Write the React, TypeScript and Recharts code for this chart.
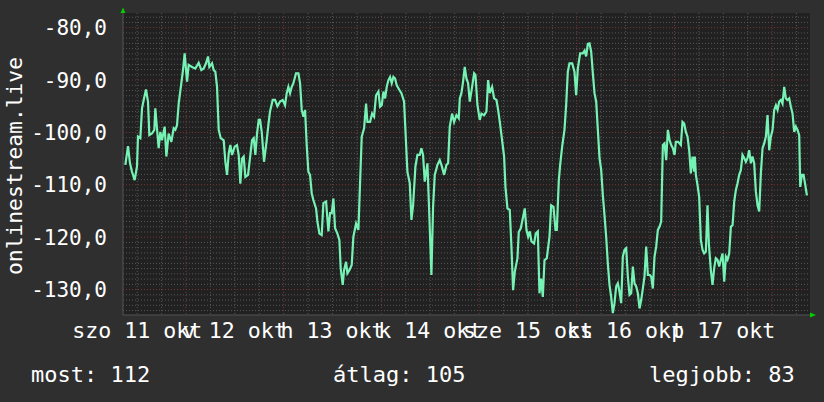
import { LineChart, Line, XAxis, YAxis, CartesianGrid } from "recharts";

// hours since Sat 11 Oct 00:00
const hours = [
  9.1, 9.75, 10.24, 10.73, 11.38, 11.96, 12.2, 12.78, 13.19, 13.6, 14.17, 14.66, 14.99, 15.64, 16.22, 16.46,
  16.87, 17.28, 17.69, 18.1, 18.76, 19.17, 19.74, 20.4, 20.97, 21.38, 21.79, 22.2, 22.85, 23.26, 23.67,
  24.25, 24.65, 25.47, 26.29, 27.11, 27.77, 28.34, 28.91, 29.41, 29.73, 30.39, 30.8, 31.21, 31.62, 32.03,
  32.52, 33.26, 33.67, 34.08, 34.49, 34.9, 35.3, 35.96, 36.53, 36.94, 37.35, 37.76, 38.17, 38.58, 39.24,
  39.81, 40.22, 40.63, 41.04, 41.45, 41.86,
  42.19, 42.6, 43.17, 43.82, 44.23, 44.64, 45.3, 45.87, 46.45, 47.1, 47.76, 48.33, 48.74, 49.15, 49.56,
  49.97, 50.38, 51.03, 51.61, 52.02, 52.43, 52.84, 53.25, 53.65, 54.06, 54.47, 54.88, 55.29, 55.95, 56.28,
  56.77, 57.34, 57.75, 58.41, 58.98, 59.39, 59.8, 60.21, 60.62, 61.19, 61.68, 62.01, 62.5, 62.83, 63.32,
  63.65, 64.14, 64.71, 65.12, 65.78, 66.35, 66.76, 67.17, 67.75, 68.24, 68.56, 69.22, 69.71, 70.2, 70.69,
  71.27, 71.68, 72.09, 72.5, 72.91, 73.32, 73.73, 74.13, 74.54, 74.95, 75.36, 75.77, 76.43,
  76.92, 77.57, 77.9, 78.39, 78.97, 79.38, 79.79, 80.36, 80.85, 81.42, 81.83, 82.24, 82.65, 83.31, 83.64,
  84.29, 84.7, 85.11, 85.77, 86.34, 86.75, 87.41, 87.98, 88.39, 88.8, 89.37, 89.86, 90.44, 91.01, 91.26,
  91.66, 92.07, 92.48, 92.89, 93.3, 93.71, 94.29, 94.78, 95.11, 95.6, 96.17, 96.58, 97.24, 97.81, 98.22,
  98.63, 99.2, 99.69, 100.27, 100.68, 101.09, 101.5, 102.15, 102.48, 102.97, 103.54, 103.95, 104.36,
  104.77, 105.43, 105.75, 106.25, 106.82, 107.23, 107.64, 108.05, 108.46, 108.87, 109.52, 109.93,
  110.43, 110.84, 111.25, 111.66, 112.07, 112.64, 113.3, 113.71, 114.28, 114.77, 115.1, 115.59, 115.92,
  116.41, 116.98, 117.39, 117.8, 118.21, 118.87, 119.44, 119.85, 120.26, 120.83, 121.49, 121.9, 122.31,
  122.72, 123.13, 123.54, 123.95, 124.36, 124.77, 125.18, 125.59, 126.0, 126.4, 126.81, 127.22, 127.63,
  128.04, 128.45, 128.86, 129.27, 129.68, 130.09, 130.5, 130.91, 131.32, 131.73, 132.14, 132.55, 132.96,
  133.37, 133.78, 134.19, 134.6, 135.01, 135.42, 135.83, 136.23, 136.64, 137.05, 137.46, 137.87, 138.28,
  138.69, 139.1, 139.51, 139.92, 140.33, 140.74, 141.15, 141.56, 141.97, 142.38, 142.79, 143.2, 143.61, 144.02,
  144.34, 144.91, 145.57, 145.98, 146.39, 146.8, 147.21, 147.62, 148.03, 148.44, 148.85, 149.01, 149.26,
  149.66, 150.07, 150.48, 150.89, 151.3, 151.71, 152.12, 152.45, 152.94, 153.35, 153.76, 154.17, 154.58,
  154.99, 155.4, 155.81, 156.22, 156.63, 157.04, 157.45, 157.86, 158.27, 158.68, 159.09, 159.5, 159.9,
  160.31, 160.72, 161.13, 161.54, 161.95, 162.36, 162.77, 163.18, 163.59, 164.0, 164.41, 164.82, 165.23,
  165.64, 166.05, 166.46, 166.87, 167.28, 167.69, 168.1, 168.51, 168.92, 169.33, 169.74, 170.15, 170.55,
  170.96, 171.37, 171.78, 172.19, 172.6, 173.01, 173.42, 173.83, 174.24, 174.65, 174.9, 175.31, 175.72,
  176.13, 176.54,
];

const signal = [
  -106.2, -102.6, -105.9, -107.5, -109.1, -106.5, -100.8, -101.1, -95.4, -93.8, -91.8, -94.1, -100.5, -100.2, -99.5, -95.4,
  -99.2, -103.0, -99.9, -101.5, -98.9, -104.6, -100.2, -101.8, -99.2, -99.5, -98.6, -94.5, -90.6, -88.1, -84.9,
  -90.3, -87.1, -87.5, -87.8, -86.7, -88.1, -87.8, -86.8, -85.5, -87.5, -86.8, -88.1, -88.4, -91.3, -99.5,
  -101.1, -101.5, -105.6, -108.1, -104.0, -102.4, -104.3, -102.7, -102.4, -104.3, -109.8, -105.0, -104.6, -108.5, -108.1,
  -104.3, -101.5, -101.1, -104.3, -100.2, -97.6,
  -97.6, -99.9, -105.6, -101.5, -98.6, -96.0, -93.8, -93.8, -95.0, -94.1, -93.8, -94.8, -92.5, -91.3, -92.5,
  -91.3, -90.6, -88.7, -88.7, -90.6, -95.7, -97.0, -95.7, -102.4, -107.5, -108.1, -111.6, -112.9, -114.5, -117.0,
  -119.3, -119.6, -113.5, -113.2, -118.9, -115.4, -115.4, -112.6, -118.3, -119.3, -120.5, -126.0, -129.1, -126.3, -124.7,
  -126.9, -126.3, -125.3, -119.9, -117.4, -118.6, -109.7, -100.8, -99.2, -94.5, -98.0, -98.0, -96.4, -97.0, -92.9,
  -92.2, -95.1, -94.8, -92.2, -93.5, -91.3, -90.0, -89.4, -90.6, -89.4, -89.7, -91.0, -91.9,
  -92.5, -94.1, -99.5, -107.5, -109.7, -116.7, -113.9, -106.5, -104.3, -104.3, -103.0, -104.3, -109.4, -105.9, -112.9,
  -127.2, -114.2, -108.1, -106.2, -105.3, -106.2, -108.1, -106.2, -105.9, -98.9, -96.4, -98.0, -96.7, -97.3, -93.5,
  -92.5, -90.3, -87.5, -89.7, -90.6, -94.1, -91.3, -88.7, -89.0, -94.8, -97.6, -96.4, -96.7, -96.0, -90.0,
  -92.5, -91.3, -93.5, -93.8, -95.7, -98.0, -100.5, -104.6, -110.4, -114.5, -114.8, -121.8, -130.1,
  -126.6, -124.0, -119.0, -118.3, -116.1, -114.5, -118.6, -119.9, -118.9, -120.8, -121.2, -119.3,
  -118.9, -130.7, -127.9, -131.4, -124.4, -124.0, -119.9, -113.9, -114.2, -118.6, -118.6, -109.1, -106.2,
  -102.7, -99.5, -94.8, -88.4, -86.8, -86.8, -88.4, -92.9, -87.8, -84.9, -84.9, -84.4, -85.5,
  -83.1, -83.0, -84.6, -88.7, -92.5, -94.1, -99.5, -104.9, -107.2, -111.9, -115.8, -119.9, -125.0,
  -129.1, -131.4, -134.5, -132.6, -129.4, -128.8, -130.4, -132.6, -123.7, -122.4, -122.1, -127.5, -131.0,
  -130.7, -125.6, -128.8, -129.4, -130.7, -133.6, -132.0, -129.8, -127.5, -121.8, -127.2, -127.2, -127.5,
  -129.8, -123.7, -121.8, -118.6, -118.0, -117.0, -102.4, -102.1, -105.3, -99.5, -101.4, -102.4, -103.0, -104.3,
  -101.8, -101.8, -102.4, -98.0, -98.3, -99.9, -100.8, -103.4, -107.8, -104.6, -107.5, -104.6, -108.1,
  -110.0, -112.3, -120.5, -122.4, -123.1, -122.8, -113.9, -121.2, -126.3, -129.1, -125.9, -124.0, -124.3,
  -125.6, -124.3, -123.1, -128.5, -123.7, -124.3, -123.1, -118.0, -117.7, -113.2, -111.0, -109.7, -108.1,
  -107.2, -104.3, -104.9, -105.6, -104.9, -103.4, -105.9, -104.6, -105.9, -111.3, -113.9, -115.1, -107.8,
  -103.0, -102.1, -100.8, -96.7, -103.4, -100.8, -99.5, -95.7, -94.8, -95.7, -94.1, -93.8, -94.5,
  -91.3, -93.5, -93.8, -93.5, -95.1, -96.4, -99.9, -98.9, -99.5, -100.5, -110.4, -108.1, -108.1,
  -110.0, -112.0,
];

const data = hours.map((t, i) => ({ t, v: signal[i] }));

const noonTicks = [12, 36, 60, 84, 108, 132, 156];
const dayLabels = ["szo 11 okt", "v 12 okt", "h 13 okt", "k 14 okt", "sze 15 okt", "cs 16 okt", "p 17 okt"];
const midnights = [24, 48, 72, 96, 120, 144, 168];
const yTicks = [-130, -120, -110, -100, -90, -80];

const xDomain = [8.52, 177.3];
const yDomain = [-134.85, -77.2];

// minor grid: every 6 hours and every 1 unit, skipping the major lines
const minorX: number[] = [];
for (let h = 12; h < xDomain[1]; h += 6) if (h % 24 !== 0) minorX.push(h);
const minorY: number[] = [];
for (let v = -134; v <= -78; v++) if (v % 10 !== 0) minorY.push(v);

const FONT = '"DejaVu Sans Mono", monospace';
const TEXT = "#ffffff";

function DayTick(props: any) {
  const i = noonTicks.indexOf(props.payload.value);
  return (
    <text x={props.x} y={338} textAnchor="middle" fill={TEXT} fontFamily={FONT} fontSize={21.6}>
      {dayLabels[i]}
    </text>
  );
}

function ValueTick(props: any) {
  const label = Number(props.payload.value).toFixed(1).replace(".", ",");
  return (
    <text x={107} y={props.y} dy={7.6} textAnchor="end" fill={TEXT} fontFamily={FONT} fontSize={21}>
      {label}
    </text>
  );
}

export default function App() {
  return (
    <div style={{ position: "absolute", left: 0, top: 0, width: 824, height: 402, background: "#2f2f2f" }}>
      <LineChart width={824} height={402} data={data} margin={{ top: 13, right: 14, bottom: 57, left: 63 }}>
        <CartesianGrid
          fill="#212121"
          stroke="#575757"
          strokeDasharray="1 2"
          horizontalValues={minorY}
          verticalValues={minorX}
        />
        <CartesianGrid stroke="#7a3636" strokeDasharray="1 2" horizontalValues={yTicks} verticalValues={midnights} />
        <XAxis
          dataKey="t"
          type="number"
          domain={xDomain}
          allowDataOverflow
          ticks={noonTicks}
          interval={0}
          tickLine={false}
          axisLine={{ stroke: "#555555" }}
          tick={<DayTick />}
          height={30}
        />
        <YAxis
          type="number"
          domain={yDomain}
          allowDataOverflow
          ticks={yTicks}
          interval={0}
          tickLine={false}
          axisLine={{ stroke: "#555555" }}
          tick={<ValueTick />}
          width={60}
        />
        <Line
          type="linear"
          dataKey="v"
          stroke="#76f2b4"
          strokeWidth={2.2}
          dot={false}
          isAnimationActive={false}
        />
      </LineChart>
      <svg width={824} height={402} style={{ position: "absolute", left: 0, top: 0, pointerEvents: "none" }}>
        <polygon points="120.5,13 125.5,13 123,7.5" fill="#00d000" />
        <polygon points="810,312.5 810,317.5 816,315" fill="#00d000" />
        <text
          x={0}
          y={0}
          transform="translate(14,166) rotate(-90)"
          textAnchor="middle"
          dominantBaseline="central"
          fill={TEXT}
          fontFamily={FONT}
          fontSize={21.3}
        >
          onlinestream.live
        </text>
        <text x={31} y={381.5} fill={TEXT} fontFamily={FONT} fontSize={22}>most: 112</text>
        <text x={333} y={381.5} fill={TEXT} fontFamily={FONT} fontSize={22}>átlag: 105</text>
        <text x={649} y={381.5} fill={TEXT} fontFamily={FONT} fontSize={22}>legjobb: 83</text>
      </svg>
    </div>
  );
}
